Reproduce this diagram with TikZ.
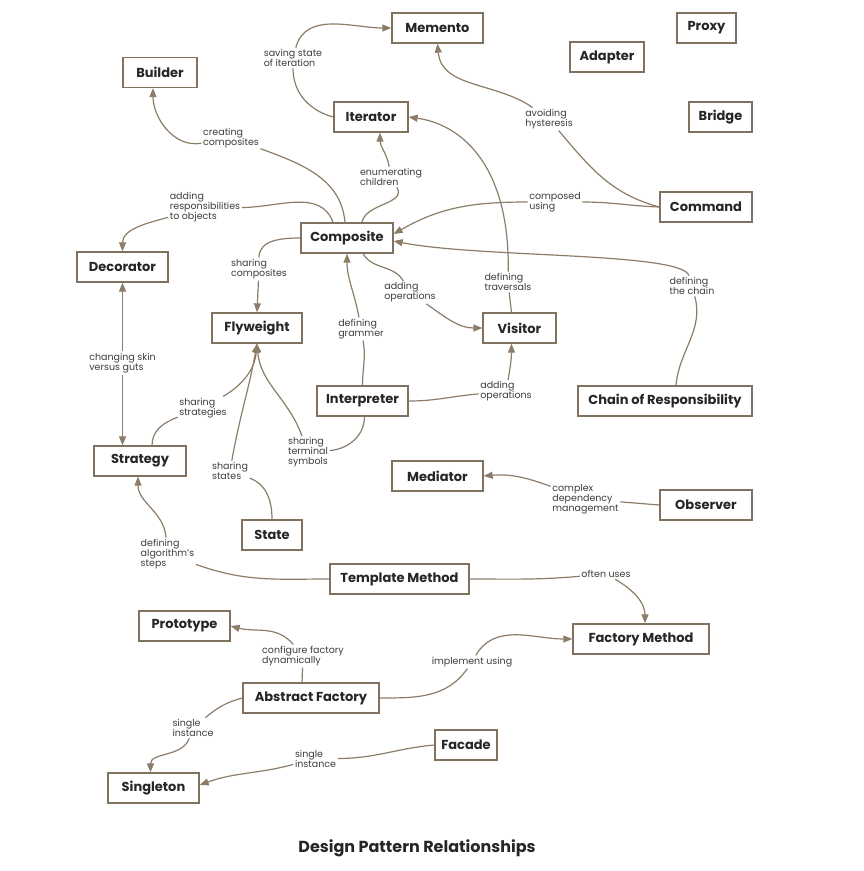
\documentclass[tikz,border=0pt]{standalone}
\usepackage{fontspec}
\setmainfont{Poppins}
\usepackage{xcolor}
\usetikzlibrary{arrows.meta}
\definecolor{edgebrown}{RGB}{140,124,104}
\definecolor{boxbrown}{RGB}{128,113,96}
\definecolor{labelgray}{RGB}{60,60,60}

\begin{document}
\begin{tikzpicture}[
    x=1pt, y=-1pt,
    >={Triangle[length=9pt, width=7pt]},
    patbox/.style={draw=boxbrown, line width=1.3pt, fill=white, minimum height=30pt, inner sep=0pt, font=\bfseries\fontsize{13}{15}\selectfont, text=black!85},
    lbl/.style={align=left, inner sep=1.5pt, font=\fontsize{9.5}{10}\selectfont, text=labelgray},
    flow/.style={->, draw=edgebrown, line width=1.2pt}
]
\useasboundingbox (0,0) rectangle (863,871);

\node[patbox, minimum width=91pt] (memento) at (437.5,28) {Memento};
\node[patbox, minimum width=59pt] (proxy) at (706.5,28) {Proxy};
\node[patbox, minimum width=74pt] (adapter) at (607,57) {Adapter};
\node[patbox, minimum width=74pt] (builder) at (160,72.5) {Builder};
\node[patbox, minimum width=74pt] (iterator) at (371,117) {Iterator};
\node[patbox, minimum width=63pt] (bridge) at (720.5,117) {Bridge};
\node[patbox, minimum width=92pt] (command) at (706,207) {Command};
\node[patbox, minimum width=92pt] (composite) at (347,238) {Composite};
\node[patbox, minimum width=91pt] (decorator) at (122.5,267) {Decorator};
\node[patbox, minimum width=90pt] (flyweight) at (257,328) {Flyweight};
\node[patbox, minimum width=73pt] (visitor) at (519.5,328) {Visitor};
\node[patbox, minimum width=91pt] (interpreter) at (362.5,401) {Interpreter};
\node[patbox, minimum width=174pt] (chain) at (665,401) {Chain of Responsibility};
\node[patbox, minimum width=92pt] (strategy) at (140,461) {Strategy};
\node[patbox, minimum width=91pt] (mediator) at (437.5,476) {Mediator};
\node[patbox, minimum width=92pt] (observer) at (706,505) {Observer};
\node[patbox, minimum width=60pt] (state) at (272,535) {State};
\node[patbox, minimum width=139pt] (template) at (399.5,579) {Template Method};
\node[patbox, minimum width=91pt] (prototype) at (184.5,626) {Prototype};
\node[patbox, minimum width=136pt] (factory) at (641,639) {Factory Method};
\node[patbox, minimum width=136pt] (abstract) at (311,698) {Abstract Factory};
\node[patbox, minimum width=62pt] (facade) at (466,745) {Facade};
\node[patbox, minimum width=91pt] (singleton) at (153.5,788) {Singleton};

\node[lbl] (lsave) at (293,58) {saving state\\of iteration};
\node[lbl] (lcreate) at (231,138) {creating\\composites};
\node[lbl] (lenum) at (391,177) {enumerating\\children};
\node[lbl] (lresp) at (205,207.5) {adding\\responsibilities\\to objects};
\node[lbl] (lavoid) at (549,119) {avoiding\\hysteresis};
\node[lbl] (lcomp) at (555,202) {composed\\using};
\node[lbl] (lchain) at (692,286) {defining\\the chain};
\node[lbl] (ltrav) at (508,282) {defining\\traversals};
\node[lbl] (lops1) at (410,292.5) {adding\\operations};
\node[lbl] (lshcomp) at (259,269) {sharing\\composites};
\node[lbl] (lgram) at (361,329) {defining\\grammer};
\node[lbl] (lops2) at (506,391.5) {adding\\operations};
\node[lbl] (lskin) at (122.5,363) {changing skin\\versus guts};
\node[lbl] (lshstr) at (203,408) {sharing\\strategies};
\node[lbl] (lshst) at (230,471) {sharing\\states};
\node[lbl] (lterm) at (308,452.5) {sharing\\terminal\\symbols};
\node[lbl] (lalg) at (167.5,554) {defining\\algorithm's\\steps};
\node[lbl] (lused) at (606,574) {often uses};
\node[lbl] (lcdep) at (585.5,499) {complex\\dependency\\management};
\node[lbl] (lconf) at (303,656) {configure factory\\dynamically};
\node[lbl] (limpl) at (472,662) {implement using};
\node[lbl] (lsing1) at (193,728) {single\\instance};
\node[lbl] (lsing2) at (315.5,758.5) {single\\instance};

\node[font=\bfseries\fontsize{16}{19}\selectfont, text=black!85] (title) at (417,848) {Design Pattern Relationships};

\draw[flow] (iterator.west) to[out=165, in=-90] (lsave) to[out=75, in=180] (memento.west);
\draw[flow] ([xshift=-2pt]composite.north) to[out=95, in=-20] (lcreate) to[out=190, in=-90] ([xshift=-7pt]builder.south);
\draw[flow] ([xshift=15pt]composite.north) to[out=80, in=-60] (lenum) to[out=100, in=-90] ([xshift=9pt]iterator.south);
\draw[flow] ([xshift=-14pt]composite.north) to[out=110, in=0] (lresp) to[out=195, in=90] (decorator.north);
\draw[flow] (command.west) to[out=165, in=-50] (lavoid) to[out=145, in=-85] (memento.south);
\draw[flow] (command.west) to[out=178, in=0] (lcomp) to[out=180, in=30] ([yshift=4pt]composite.east);
\draw[flow] ([xshift=11pt]chain.north) to[out=85, in=-75] (lchain) .. controls (682,252) and (480,258) .. ([yshift=-3pt]composite.east);
\draw[flow] ([xshift=-8pt]visitor.north) -- (ltrav) .. controls (510,170) and (465,125) .. (iterator.east);
\draw[flow] ([xshift=16pt]composite.south) to[out=-60, in=120] (lops1) to[out=-35, in=180] (visitor.west);
\draw[flow] (composite.west) to[out=180, in=90] (lshcomp) -- (flyweight.north);
\draw[flow] (interpreter.north) to[out=90, in=-80] (lgram) to[out=100, in=-90] (composite.south);
\draw[flow] (interpreter.east) to[out=0, in=185] (lops2) to[out=80, in=-90] ([xshift=-8pt]visitor.south);
\draw[flow] (lskin) -- (decorator.south);
\draw[flow] (lskin) -- ([xshift=-17.5pt]strategy.north);
\draw[flow] ([xshift=12pt]strategy.north) to[out=90, in=200] (lshstr) to[out=30, in=-95] (flyweight.south);
\draw[flow] (state.north) to[out=90, in=-20] (lshst) to[out=80, in=-100] (flyweight.south);
\draw[flow] ([xshift=2pt]interpreter.south) to[out=-90, in=5] (lterm) to[out=110, in=-85] (flyweight.south);
\draw[flow] (template.west) to[out=180, in=-20] (lalg) to[out=95, in=-90] ([xshift=-2pt]strategy.south);
\draw[flow] (template.east) to[out=0, in=185] (lused) to[out=-30, in=90] ([xshift=4pt]factory.north);
\draw[flow] (observer.west) -- (lcdep) to[out=160, in=5] (mediator.east);
\draw[flow] ([xshift=-9pt]abstract.north) -- (lconf) to[out=130, in=-15] (prototype.east);
\draw[flow] (abstract.east) to[out=0, in=235] (limpl) to[out=60, in=180] (factory.west);
\draw[flow] (abstract.west) to[out=195, in=40] (lsing1) to[out=-110, in=90] ([xshift=-3pt]singleton.north);
\draw[flow] (facade.west) to[out=185, in=0] (lsing2) to[out=195, in=20] ([yshift=3pt]singleton.east);
\end{tikzpicture}
\end{document}
